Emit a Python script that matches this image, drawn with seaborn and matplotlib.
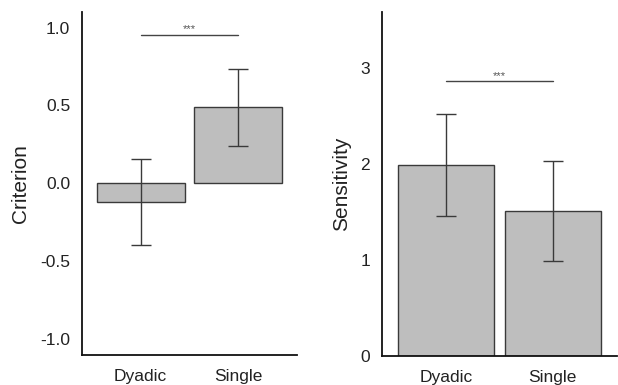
import matplotlib

matplotlib.use("Agg")

import matplotlib.pyplot as plt
import pandas as pd
import seaborn as sns

CONDITIONS = ["Dyadic", "Single"]
CRITERION_MEAN = [-0.12, 0.49]
CRITERION_ERR = [0.275, 0.247]
SENSITIVITY_MEAN = [1.99, 1.51]
SENSITIVITY_ERR = [0.53, 0.52]

BAR_COLOR = "#bebebe"
EDGE_COLOR = "#3a3a3a"
TEXT_COLOR = "#222222"


def draw_panel(ax, means, errs, ylabel, ylim, yticks, ytick_labels, sig_y):
    df = pd.DataFrame({"condition": CONDITIONS, "value": means})
    sns.barplot(data=df, x="condition", y="value", color=BAR_COLOR,
                edgecolor=EDGE_COLOR, linewidth=1.0, width=0.9, ax=ax)
    xs = list(range(len(CONDITIONS)))
    ax.errorbar(xs, means, yerr=errs, fmt="none", ecolor=EDGE_COLOR,
                elinewidth=1.0, capsize=7, capthick=1.0)
    ax.plot([0, 1], [sig_y, sig_y], color="#444444", linewidth=1.0)
    ax.text(0.5, sig_y, "***", ha="center", va="bottom", fontsize=8,
            color="#555555")
    ax.set_xlim(-0.6, 1.6)
    ax.set_ylim(*ylim)
    ax.set_yticks(yticks)
    ax.set_yticklabels(ytick_labels)
    ax.set_xlabel("")
    ax.set_ylabel(ylabel, fontsize=15, color=TEXT_COLOR, labelpad=7)
    ax.tick_params(axis="both", labelsize=12.5, colors=TEXT_COLOR,
                   length=5, width=1.0, direction="out")
    ax.tick_params(axis="x", pad=5)
    for side in ("top", "right"):
        ax.spines[side].set_visible(False)
    for side in ("left", "bottom"):
        ax.spines[side].set_color("#111111")
        ax.spines[side].set_linewidth(1.3)


def main() -> None:
    sns.set_theme(style="white")
    plt.rcParams["font.family"] = ["Liberation Sans", "DejaVu Sans"]
    plt.rcParams["axes.unicode_minus"] = False

    fig = plt.figure(figsize=(6.18, 3.85), dpi=100)
    ax_left = fig.add_axes([0.1327, 0.078, 0.348, 0.891])
    ax_right = fig.add_axes([0.618, 0.076, 0.38, 0.893])

    draw_panel(ax_left, CRITERION_MEAN, CRITERION_ERR, "Criterion",
               (-1.1, 1.1), [-1.0, -0.5, 0.0, 0.5, 1.0],
               ["-1.0", "-0.5", "0.0", "0.5", "1.0"], 0.955)
    draw_panel(ax_right, SENSITIVITY_MEAN, SENSITIVITY_ERR, "Sensitivity",
               (0, 3.58), [0, 1, 2, 3], ["0", "1", "2", "3"], 2.86)

    fig.savefig("out.png", dpi=100)
    plt.close(fig)


if __name__ == "__main__":
    main()
